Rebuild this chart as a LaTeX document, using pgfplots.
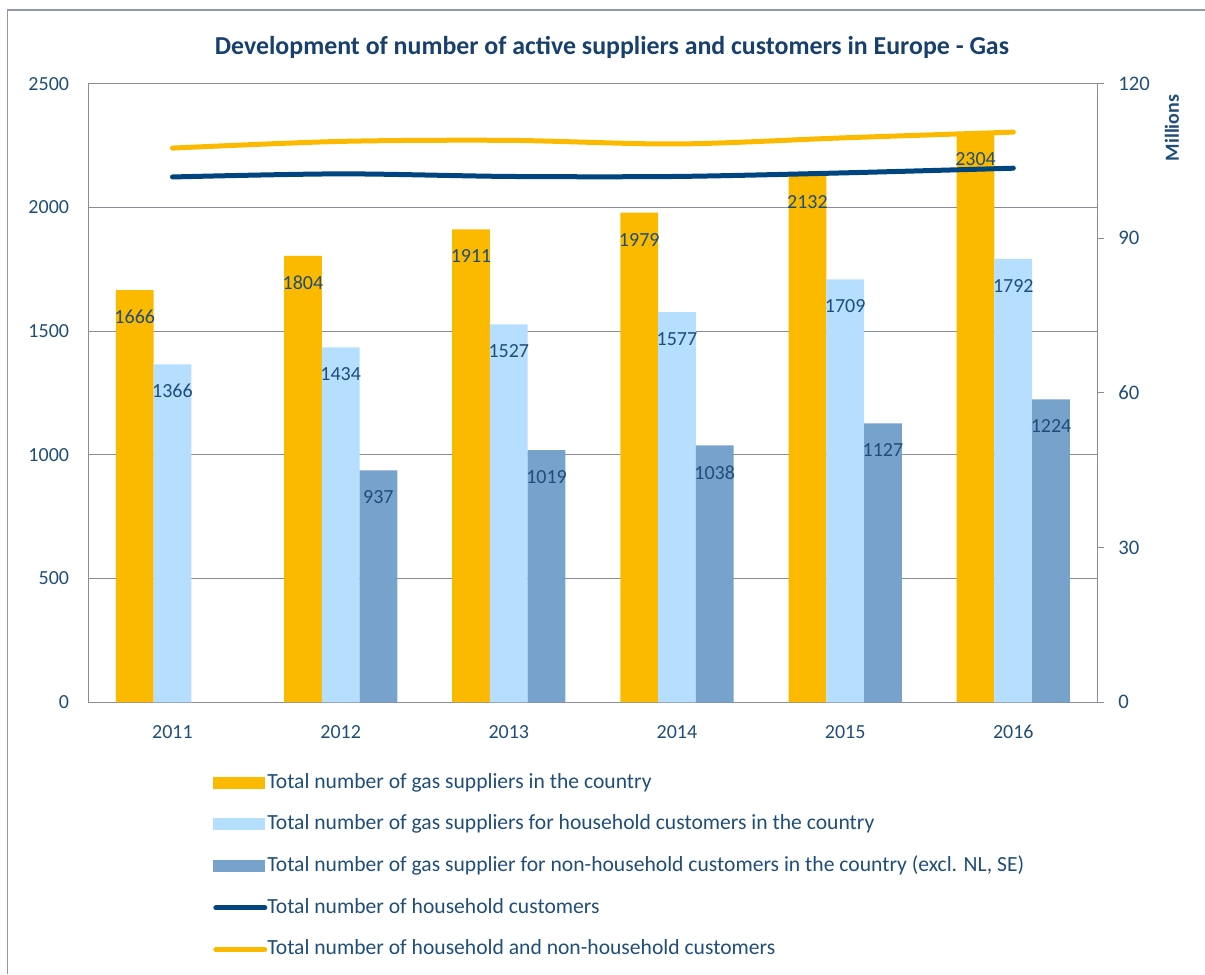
\documentclass[border=0pt]{standalone}
\usepackage{fontspec}
\setmainfont{Carlito}
\usepackage{pgfplots}
\pgfplotsset{compat=1.18}
\definecolor{ygold}{HTML}{FBBA00}
\definecolor{lblue}{HTML}{B5DEFF}
\definecolor{sblue}{HTML}{76A2CC}
\definecolor{navy}{HTML}{00457F}
\definecolor{txtblue}{HTML}{1F4E79}
\definecolor{titleblue}{HTML}{17406D}
\definecolor{gridgray}{HTML}{878D9E}
\definecolor{framegray}{HTML}{9098AA}
\newcommand{\tfont}{\fontsize{15}{18}\selectfont}
\newcommand{\lfont}{\fontsize{16.2}{19}\selectfont}
\begin{document}
\begin{tikzpicture}
\path[use as bounding box] (0pt,0pt) rectangle (903.75pt,730.5pt);
\draw[framegray, line width=0.9pt] (5.8pt,0pt) -- (5.8pt,723pt) -- (903.75pt,723pt);
\node[font=\bfseries\fontsize{19.4}{23}\selectfont, text=titleblue] at (459pt,695pt) {Development of number of active suppliers and customers in Europe - Gas};
\node[rotate=90, font=\bfseries\tfont, text=txtblue] at (879pt,634.5pt) {Millions};
\begin{axis}[
  at={(66.3pt,203.8pt)}, anchor=south west,
  scale only axis, width=756.75pt, height=463.95pt,
  xmin=-0.5, xmax=5.5, ymin=0, ymax=2500,
  xtick={0,...,5}, xticklabels={2011,2012,2013,2014,2015,2016},
  ytick={0,500,...,2500},
  ymajorgrids, grid style={gridgray, line width=0.75pt},
  axis line style={gridgray, line width=0.75pt},
  tick style={draw=none},
  /pgf/number format/.cd, 1000 sep={}, assume math mode=true, /pgfplots/.cd,
  ticklabel style={font=\tfont, text=txtblue},
  yticklabel style={xshift=-11pt},
  xticklabel style={yshift=-9.5pt},
  ybar=0pt, bar width=28.3pt,
  nodes near coords,
  nodes near coords style={font=\tfont, text=txtblue, anchor=center, yshift=-20.25pt},
  legend style={at={(0.1235,-0.1145)}, anchor=north west, draw=none, fill=none,
    font=\lfont, text=txtblue, row sep=17.3pt, inner sep=0pt,
    nodes={inner sep=0pt, text height=11pt, text depth=3pt},
    /tikz/every even column/.append style={column sep=3pt}},
  legend cell align=left,
]
\addplot[fill=ygold, draw=none, legend image code/.code={\fill[ygold] (0pt,-4.5pt) rectangle (39pt,4.5pt);}]
  coordinates {(0,1666) (1,1804) (2,1911) (3,1979) (4,2132) (5,2304)};
\addlegendentry{Total number of gas suppliers in the country}
\addplot[fill=lblue, draw=none, legend image code/.code={\fill[lblue] (0pt,-4.5pt) rectangle (39pt,4.5pt);}]
  coordinates {(0,1366) (1,1434) (2,1527) (3,1577) (4,1709) (5,1792)};
\addlegendentry{Total number of gas suppliers for household customers in the country}
\addplot[fill=sblue, draw=none, legend image code/.code={\fill[sblue] (0pt,-4.5pt) rectangle (39pt,4.5pt);}]
  coordinates {(1,937) (2,1019) (3,1038) (4,1127) (5,1224)};
\addlegendentry{Total number of gas supplier for non-household customers in the country (excl. NL, SE)}
\addlegendimage{legend image code/.code={\draw[navy, line width=3.75pt, line cap=round] (1.9pt,0pt) -- (38.6pt,0pt);}}
\addlegendentry{Total number of household customers}
\addlegendimage{legend image code/.code={\draw[ygold, line width=3.75pt, line cap=round] (1.9pt,0pt) -- (38.6pt,0pt);}}
\addlegendentry{Total number of household and non-household customers}
\end{axis}
\begin{axis}[
  at={(66.3pt,203.8pt)}, anchor=south west,
  scale only axis, width=756.75pt, height=463.95pt,
  xmin=-0.5, xmax=5.5, ymin=0, ymax=120,
  axis x line=none, axis y line*=right,
  ytick={0,30,...,120},
  tick align=outside, major tick length=5.25pt,
  ytick style={gridgray, line width=0.75pt},
  axis line style={gridgray, line width=0.75pt},
  /pgf/number format/.cd, 1000 sep={}, assume math mode=true, /pgfplots/.cd,
  yticklabel style={font=\fontsize{15.5}{18}\selectfont, text=txtblue, xshift=7pt},
]
\addplot[navy, line width=3.75pt, line cap=round, smooth]
  coordinates {(0,101.9) (1,102.5) (2,102.0) (3,102.0) (4,102.7) (5,103.6)};
\addplot[ygold, line width=3.75pt, line cap=round, smooth]
  coordinates {(0,107.5) (1,108.8) (2,109.0) (3,108.3) (4,109.5) (5,110.6)};
\end{axis}
\end{tikzpicture}
\end{document}
